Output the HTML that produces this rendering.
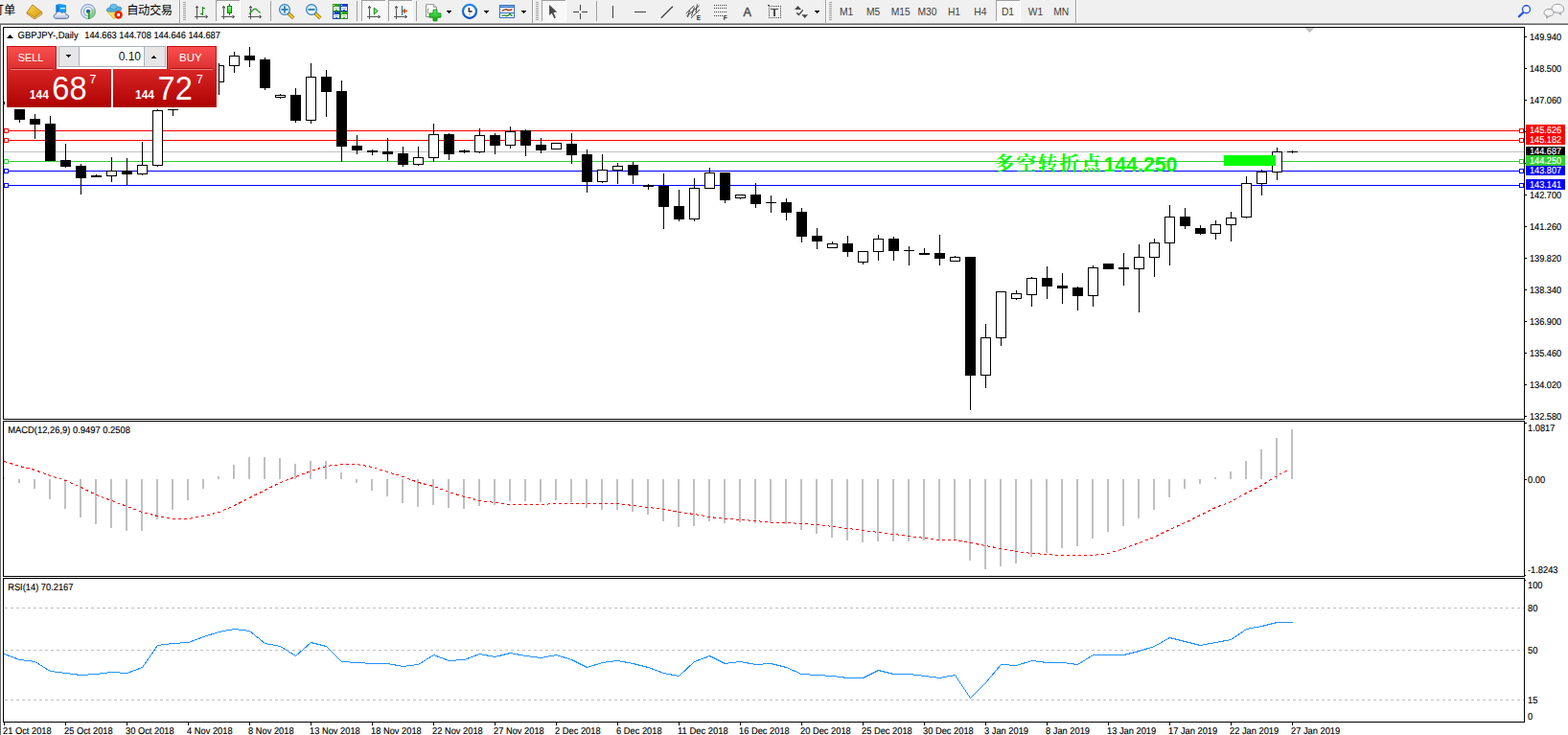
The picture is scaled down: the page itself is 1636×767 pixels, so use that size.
<!DOCTYPE html>
<html><head><meta charset="utf-8"><title>GBPJPY Daily</title>
<style>
html,body{margin:0;padding:0;background:#fff;width:1636px;height:767px;overflow:hidden}
svg{position:absolute;left:0;top:0;display:block}
text{font-family:"Liberation Sans",sans-serif;white-space:pre}
</style></head><body>
<svg width="1636" height="767" viewBox="0 0 1636 767">
<g shape-rendering="crispEdges">
<rect x="0" y="25" width="1" height="742" fill="#696969"/>
<rect x="3" y="28" width="1588" height="1" fill="#000"/><rect x="3" y="28" width="1" height="410" fill="#000"/><rect x="3" y="437" width="1588" height="1" fill="#000"/>
<rect x="3" y="439" width="1588" height="1" fill="#000"/><rect x="3" y="439" width="1" height="163" fill="#000"/><rect x="3" y="601" width="1588" height="1" fill="#000"/>
<rect x="3" y="603" width="1588" height="1" fill="#000"/><rect x="3" y="603" width="1" height="151" fill="#000"/><rect x="3" y="753" width="1588" height="1" fill="#000"/>
<rect x="1590" y="28" width="1" height="410" fill="#000"/><rect x="1590" y="439" width="1" height="163" fill="#000"/><rect x="1590" y="603" width="1" height="151" fill="#000"/>
<rect x="1591" y="600" width="1" height="1" fill="#000"/><rect x="1591" y="605" width="1" height="1" fill="#000"/>
<rect x="1362" y="29" width="9" height="1" fill="#C0C0C0"/>
<rect x="1363" y="30" width="7" height="1" fill="#C0C0C0"/>
<rect x="1364" y="31" width="5" height="1" fill="#C0C0C0"/>
<rect x="1365" y="32" width="3" height="1" fill="#C0C0C0"/>
<rect x="1366" y="33" width="1" height="1" fill="#C0C0C0"/>
<rect x="4" y="136" width="1586" height="1" fill="#FF0000"/>
<rect x="4" y="146" width="1586" height="1" fill="#FF0000"/>
<rect x="4" y="158" width="1586" height="1" fill="#C0C0C0"/>
<rect x="4" y="168" width="1586" height="1" fill="#32CD32"/>
<rect x="4" y="178" width="1586" height="1" fill="#0000FF"/>
<rect x="4" y="193" width="1586" height="1" fill="#0000FF"/>
<rect x="4" y="106" width="1" height="3" fill="#000"/>
<rect x="20" y="114" width="1" height="14" fill="#000"/>
<rect x="15" y="114" width="11" height="11" fill="#000"/>
<rect x="36" y="119" width="1" height="26" fill="#000"/>
<rect x="31" y="124" width="11" height="6" fill="#000"/>
<rect x="52" y="121" width="1" height="47" fill="#000"/>
<rect x="47" y="129" width="11" height="39" fill="#000"/>
<rect x="68" y="150" width="1" height="25" fill="#000"/>
<rect x="63" y="167" width="11" height="7" fill="#000"/>
<rect x="84" y="171" width="1" height="32" fill="#000"/>
<rect x="79" y="173" width="11" height="13" fill="#000"/>
<rect x="100" y="182" width="1" height="3" fill="#000"/>
<rect x="95" y="183" width="11" height="2" fill="#000"/>
<rect x="116" y="164" width="1" height="26" fill="#000"/>
<rect x="111" y="178" width="11" height="6" fill="#000"/>
<rect x="112" y="179" width="9" height="4" fill="#fff"/>
<rect x="132" y="165" width="1" height="28" fill="#000"/>
<rect x="127" y="178" width="11" height="4" fill="#000"/>
<rect x="148" y="148" width="1" height="35" fill="#000"/>
<rect x="143" y="172" width="11" height="10" fill="#000"/>
<rect x="144" y="173" width="9" height="8" fill="#fff"/>
<rect x="164" y="114" width="1" height="60" fill="#000"/>
<rect x="159" y="115" width="11" height="58" fill="#000"/>
<rect x="160" y="116" width="9" height="56" fill="#fff"/>
<rect x="180" y="114" width="1" height="7" fill="#000"/>
<rect x="175" y="114" width="11" height="1" fill="#000"/>
<rect x="244" y="54" width="1" height="22" fill="#000"/>
<rect x="239" y="58" width="11" height="11" fill="#000"/>
<rect x="240" y="59" width="9" height="9" fill="#fff"/>
<rect x="260" y="49" width="1" height="21" fill="#000"/>
<rect x="255" y="58" width="11" height="5" fill="#000"/>
<rect x="276" y="60" width="1" height="34" fill="#000"/>
<rect x="271" y="62" width="11" height="30" fill="#000"/>
<rect x="292" y="98" width="1" height="5" fill="#000"/>
<rect x="287" y="99" width="11" height="3" fill="#000"/>
<rect x="288" y="100" width="9" height="1" fill="#fff"/>
<rect x="308" y="92" width="1" height="36" fill="#000"/>
<rect x="303" y="99" width="11" height="27" fill="#000"/>
<rect x="324" y="66" width="1" height="63" fill="#000"/>
<rect x="319" y="80" width="11" height="46" fill="#000"/>
<rect x="320" y="81" width="9" height="44" fill="#fff"/>
<rect x="340" y="73" width="1" height="49" fill="#000"/>
<rect x="335" y="80" width="11" height="16" fill="#000"/>
<rect x="356" y="84" width="1" height="85" fill="#000"/>
<rect x="351" y="95" width="11" height="58" fill="#000"/>
<rect x="372" y="141" width="1" height="20" fill="#000"/>
<rect x="367" y="152" width="11" height="5" fill="#000"/>
<rect x="388" y="156" width="1" height="6" fill="#000"/>
<rect x="383" y="157" width="11" height="2" fill="#000"/>
<rect x="404" y="144" width="1" height="24" fill="#000"/>
<rect x="399" y="158" width="11" height="3" fill="#000"/>
<rect x="420" y="153" width="1" height="21" fill="#000"/>
<rect x="415" y="160" width="11" height="12" fill="#000"/>
<rect x="436" y="153" width="1" height="20" fill="#000"/>
<rect x="431" y="164" width="11" height="8" fill="#000"/>
<rect x="432" y="165" width="9" height="6" fill="#fff"/>
<rect x="452" y="129" width="1" height="40" fill="#000"/>
<rect x="447" y="140" width="11" height="25" fill="#000"/>
<rect x="448" y="141" width="9" height="23" fill="#fff"/>
<rect x="468" y="139" width="1" height="28" fill="#000"/>
<rect x="463" y="140" width="11" height="21" fill="#000"/>
<rect x="484" y="156" width="1" height="4" fill="#000"/>
<rect x="479" y="157" width="11" height="2" fill="#000"/>
<rect x="500" y="134" width="1" height="26" fill="#000"/>
<rect x="495" y="141" width="11" height="18" fill="#000"/>
<rect x="496" y="142" width="9" height="16" fill="#fff"/>
<rect x="516" y="139" width="1" height="22" fill="#000"/>
<rect x="511" y="141" width="11" height="11" fill="#000"/>
<rect x="532" y="132" width="1" height="23" fill="#000"/>
<rect x="527" y="137" width="11" height="15" fill="#000"/>
<rect x="528" y="138" width="9" height="13" fill="#fff"/>
<rect x="548" y="135" width="1" height="28" fill="#000"/>
<rect x="543" y="136" width="11" height="16" fill="#000"/>
<rect x="564" y="144" width="1" height="16" fill="#000"/>
<rect x="559" y="151" width="11" height="6" fill="#000"/>
<rect x="580" y="149" width="1" height="7" fill="#000"/>
<rect x="575" y="149" width="11" height="7" fill="#000"/>
<rect x="576" y="150" width="9" height="5" fill="#fff"/>
<rect x="596" y="139" width="1" height="32" fill="#000"/>
<rect x="591" y="150" width="11" height="12" fill="#000"/>
<rect x="612" y="156" width="1" height="45" fill="#000"/>
<rect x="607" y="161" width="11" height="29" fill="#000"/>
<rect x="628" y="161" width="1" height="30" fill="#000"/>
<rect x="623" y="177" width="11" height="13" fill="#000"/>
<rect x="624" y="178" width="9" height="11" fill="#fff"/>
<rect x="644" y="170" width="1" height="22" fill="#000"/>
<rect x="639" y="173" width="11" height="5" fill="#000"/>
<rect x="640" y="174" width="9" height="3" fill="#fff"/>
<rect x="660" y="169" width="1" height="23" fill="#000"/>
<rect x="655" y="172" width="11" height="11" fill="#000"/>
<rect x="676" y="192" width="1" height="6" fill="#000"/>
<rect x="671" y="193" width="11" height="2" fill="#000"/>
<rect x="692" y="181" width="1" height="58" fill="#000"/>
<rect x="687" y="194" width="11" height="22" fill="#000"/>
<rect x="708" y="198" width="1" height="33" fill="#000"/>
<rect x="703" y="215" width="11" height="14" fill="#000"/>
<rect x="724" y="186" width="1" height="45" fill="#000"/>
<rect x="719" y="196" width="11" height="33" fill="#000"/>
<rect x="720" y="197" width="9" height="31" fill="#fff"/>
<rect x="740" y="175" width="1" height="22" fill="#000"/>
<rect x="735" y="180" width="11" height="17" fill="#000"/>
<rect x="736" y="181" width="9" height="15" fill="#fff"/>
<rect x="756" y="180" width="1" height="32" fill="#000"/>
<rect x="751" y="180" width="11" height="29" fill="#000"/>
<rect x="772" y="203" width="1" height="5" fill="#000"/>
<rect x="767" y="203" width="11" height="4" fill="#000"/>
<rect x="768" y="204" width="9" height="2" fill="#fff"/>
<rect x="788" y="191" width="1" height="26" fill="#000"/>
<rect x="783" y="203" width="11" height="10" fill="#000"/>
<rect x="804" y="204" width="1" height="18" fill="#000"/>
<rect x="799" y="211" width="11" height="1" fill="#000"/>
<rect x="820" y="207" width="1" height="23" fill="#000"/>
<rect x="815" y="211" width="11" height="11" fill="#000"/>
<rect x="836" y="217" width="1" height="36" fill="#000"/>
<rect x="831" y="221" width="11" height="26" fill="#000"/>
<rect x="852" y="238" width="1" height="22" fill="#000"/>
<rect x="847" y="246" width="11" height="6" fill="#000"/>
<rect x="868" y="252" width="1" height="7" fill="#000"/>
<rect x="863" y="254" width="11" height="5" fill="#000"/>
<rect x="864" y="255" width="9" height="3" fill="#fff"/>
<rect x="884" y="246" width="1" height="22" fill="#000"/>
<rect x="879" y="254" width="11" height="9" fill="#000"/>
<rect x="900" y="262" width="1" height="14" fill="#000"/>
<rect x="895" y="262" width="11" height="12" fill="#000"/>
<rect x="896" y="263" width="9" height="10" fill="#fff"/>
<rect x="916" y="245" width="1" height="27" fill="#000"/>
<rect x="911" y="249" width="11" height="14" fill="#000"/>
<rect x="912" y="250" width="9" height="12" fill="#fff"/>
<rect x="932" y="247" width="1" height="25" fill="#000"/>
<rect x="927" y="249" width="11" height="13" fill="#000"/>
<rect x="948" y="257" width="1" height="20" fill="#000"/>
<rect x="943" y="261" width="11" height="1" fill="#000"/>
<rect x="964" y="259" width="1" height="7" fill="#000"/>
<rect x="959" y="264" width="11" height="2" fill="#000"/>
<rect x="980" y="245" width="1" height="32" fill="#000"/>
<rect x="975" y="264" width="11" height="6" fill="#000"/>
<rect x="996" y="267" width="1" height="6" fill="#000"/>
<rect x="991" y="268" width="11" height="5" fill="#000"/>
<rect x="992" y="269" width="9" height="3" fill="#fff"/>
<rect x="1012" y="268" width="1" height="160" fill="#000"/>
<rect x="1007" y="268" width="11" height="124" fill="#000"/>
<rect x="1028" y="338" width="1" height="67" fill="#000"/>
<rect x="1023" y="352" width="11" height="40" fill="#000"/>
<rect x="1024" y="353" width="9" height="38" fill="#fff"/>
<rect x="1044" y="304" width="1" height="57" fill="#000"/>
<rect x="1039" y="304" width="11" height="49" fill="#000"/>
<rect x="1040" y="305" width="9" height="47" fill="#fff"/>
<rect x="1060" y="303" width="1" height="10" fill="#000"/>
<rect x="1055" y="306" width="11" height="6" fill="#000"/>
<rect x="1056" y="307" width="9" height="4" fill="#fff"/>
<rect x="1076" y="289" width="1" height="31" fill="#000"/>
<rect x="1071" y="290" width="11" height="18" fill="#000"/>
<rect x="1072" y="291" width="9" height="16" fill="#fff"/>
<rect x="1092" y="278" width="1" height="34" fill="#000"/>
<rect x="1087" y="290" width="11" height="9" fill="#000"/>
<rect x="1108" y="285" width="1" height="32" fill="#000"/>
<rect x="1103" y="298" width="11" height="3" fill="#000"/>
<rect x="1124" y="299" width="1" height="25" fill="#000"/>
<rect x="1119" y="300" width="11" height="9" fill="#000"/>
<rect x="1140" y="277" width="1" height="43" fill="#000"/>
<rect x="1135" y="279" width="11" height="30" fill="#000"/>
<rect x="1136" y="280" width="9" height="28" fill="#fff"/>
<rect x="1156" y="275" width="1" height="6" fill="#000"/>
<rect x="1151" y="275" width="11" height="6" fill="#000"/>
<rect x="1172" y="264" width="1" height="34" fill="#000"/>
<rect x="1167" y="279" width="11" height="2" fill="#000"/>
<rect x="1188" y="255" width="1" height="71" fill="#000"/>
<rect x="1183" y="268" width="11" height="13" fill="#000"/>
<rect x="1184" y="269" width="9" height="11" fill="#fff"/>
<rect x="1204" y="249" width="1" height="40" fill="#000"/>
<rect x="1199" y="253" width="11" height="16" fill="#000"/>
<rect x="1200" y="254" width="9" height="14" fill="#fff"/>
<rect x="1220" y="214" width="1" height="63" fill="#000"/>
<rect x="1215" y="226" width="11" height="28" fill="#000"/>
<rect x="1216" y="227" width="9" height="26" fill="#fff"/>
<rect x="1236" y="217" width="1" height="22" fill="#000"/>
<rect x="1231" y="226" width="11" height="10" fill="#000"/>
<rect x="1252" y="235" width="1" height="10" fill="#000"/>
<rect x="1247" y="238" width="11" height="6" fill="#000"/>
<rect x="1268" y="230" width="1" height="20" fill="#000"/>
<rect x="1263" y="234" width="11" height="10" fill="#000"/>
<rect x="1264" y="235" width="9" height="8" fill="#fff"/>
<rect x="1284" y="221" width="1" height="31" fill="#000"/>
<rect x="1279" y="227" width="11" height="8" fill="#000"/>
<rect x="1280" y="228" width="9" height="6" fill="#fff"/>
<rect x="1300" y="184" width="1" height="44" fill="#000"/>
<rect x="1295" y="191" width="11" height="36" fill="#000"/>
<rect x="1296" y="192" width="9" height="34" fill="#fff"/>
<rect x="1316" y="177" width="1" height="27" fill="#000"/>
<rect x="1311" y="179" width="11" height="13" fill="#000"/>
<rect x="1312" y="180" width="9" height="11" fill="#fff"/>
<rect x="1332" y="154" width="1" height="34" fill="#000"/>
<rect x="1327" y="158" width="11" height="22" fill="#000"/>
<rect x="1328" y="159" width="9" height="20" fill="#fff"/>
<rect x="1348" y="157" width="1" height="3" fill="#000"/>
<rect x="1343" y="158" width="11" height="1" fill="#000"/>
<rect x="228" y="66" width="1" height="33" fill="#000"/>
<rect x="228" y="68" width="6" height="1" fill="#000"/>
<rect x="228" y="85" width="6" height="1" fill="#000"/>
<rect x="233" y="68" width="1" height="18" fill="#000"/>
<rect x="1277" y="162" width="54" height="11" fill="#00FF00"/>
<rect x="4" y="134" width="5" height="5" fill="#FF0000"/><rect x="5" y="135" width="3" height="3" fill="#fff"/>
<rect x="1585" y="134" width="5" height="5" fill="#FF0000"/><rect x="1586" y="135" width="3" height="3" fill="#fff"/>
<rect x="4" y="144" width="5" height="5" fill="#FF0000"/><rect x="5" y="145" width="3" height="3" fill="#fff"/>
<rect x="1585" y="144" width="5" height="5" fill="#FF0000"/><rect x="1586" y="145" width="3" height="3" fill="#fff"/>
<rect x="4" y="166" width="5" height="5" fill="#32CD32"/><rect x="5" y="167" width="3" height="3" fill="#fff"/>
<rect x="1585" y="166" width="5" height="5" fill="#32CD32"/><rect x="1586" y="167" width="3" height="3" fill="#fff"/>
<rect x="4" y="176" width="5" height="5" fill="#0000FF"/><rect x="5" y="177" width="3" height="3" fill="#fff"/>
<rect x="1585" y="176" width="5" height="5" fill="#0000FF"/><rect x="1586" y="177" width="3" height="3" fill="#fff"/>
<rect x="4" y="191" width="5" height="5" fill="#0000FF"/><rect x="5" y="192" width="3" height="3" fill="#fff"/>
<rect x="1585" y="191" width="5" height="5" fill="#0000FF"/><rect x="1586" y="192" width="3" height="3" fill="#fff"/>
<rect x="1591" y="38" width="2" height="1" fill="#000"/>
<rect x="1591" y="71" width="2" height="1" fill="#000"/>
<rect x="1591" y="104" width="2" height="1" fill="#000"/>
<rect x="1591" y="137" width="2" height="1" fill="#000"/>
<rect x="1591" y="170" width="2" height="1" fill="#000"/>
<rect x="1591" y="203" width="2" height="1" fill="#000"/>
<rect x="1591" y="236" width="2" height="1" fill="#000"/>
<rect x="1591" y="269" width="2" height="1" fill="#000"/>
<rect x="1591" y="302" width="2" height="1" fill="#000"/>
<rect x="1591" y="335" width="2" height="1" fill="#000"/>
<rect x="1591" y="368" width="2" height="1" fill="#000"/>
<rect x="1591" y="401" width="2" height="1" fill="#000"/>
<rect x="1591" y="434" width="2" height="1" fill="#000"/>
<rect x="1592" y="130" width="41" height="11" fill="#FF0000"/>
<rect x="1592" y="140" width="41" height="11" fill="#FF0000"/>
<rect x="1592" y="153" width="41" height="10" fill="#000000"/>
<rect x="1592" y="172" width="41" height="11" fill="#0000FF"/>
<rect x="1592" y="187" width="41" height="11" fill="#0000FF"/>
<rect x="1592" y="162" width="41" height="11" fill="#32CD32"/>
<rect x="4" y="498" width="1" height="2" fill="#C0C0C0"/>
<rect x="19" y="500" width="2" height="4" fill="#C0C0C0"/>
<rect x="35" y="500" width="2" height="10" fill="#C0C0C0"/>
<rect x="51" y="500" width="2" height="21" fill="#C0C0C0"/>
<rect x="67" y="500" width="2" height="31" fill="#C0C0C0"/>
<rect x="83" y="500" width="2" height="40" fill="#C0C0C0"/>
<rect x="99" y="500" width="2" height="47" fill="#C0C0C0"/>
<rect x="115" y="500" width="2" height="51" fill="#C0C0C0"/>
<rect x="131" y="500" width="2" height="54" fill="#C0C0C0"/>
<rect x="147" y="500" width="2" height="54" fill="#C0C0C0"/>
<rect x="163" y="500" width="2" height="42" fill="#C0C0C0"/>
<rect x="179" y="500" width="2" height="32" fill="#C0C0C0"/>
<rect x="195" y="500" width="2" height="22" fill="#C0C0C0"/>
<rect x="211" y="500" width="2" height="10" fill="#C0C0C0"/>
<rect x="227" y="497" width="2" height="3" fill="#C0C0C0"/>
<rect x="243" y="485" width="2" height="15" fill="#C0C0C0"/>
<rect x="259" y="477" width="2" height="23" fill="#C0C0C0"/>
<rect x="275" y="477" width="2" height="23" fill="#C0C0C0"/>
<rect x="291" y="478" width="2" height="22" fill="#C0C0C0"/>
<rect x="307" y="484" width="2" height="16" fill="#C0C0C0"/>
<rect x="323" y="481" width="2" height="19" fill="#C0C0C0"/>
<rect x="339" y="481" width="2" height="19" fill="#C0C0C0"/>
<rect x="355" y="493" width="2" height="7" fill="#C0C0C0"/>
<rect x="371" y="500" width="2" height="4" fill="#C0C0C0"/>
<rect x="387" y="500" width="2" height="12" fill="#C0C0C0"/>
<rect x="403" y="500" width="2" height="18" fill="#C0C0C0"/>
<rect x="419" y="500" width="2" height="25" fill="#C0C0C0"/>
<rect x="435" y="500" width="2" height="29" fill="#C0C0C0"/>
<rect x="451" y="500" width="2" height="27" fill="#C0C0C0"/>
<rect x="467" y="500" width="2" height="30" fill="#C0C0C0"/>
<rect x="483" y="500" width="2" height="31" fill="#C0C0C0"/>
<rect x="499" y="500" width="2" height="28" fill="#C0C0C0"/>
<rect x="515" y="500" width="2" height="27" fill="#C0C0C0"/>
<rect x="531" y="500" width="2" height="23" fill="#C0C0C0"/>
<rect x="547" y="500" width="2" height="23" fill="#C0C0C0"/>
<rect x="563" y="500" width="2" height="24" fill="#C0C0C0"/>
<rect x="579" y="500" width="2" height="22" fill="#C0C0C0"/>
<rect x="595" y="500" width="2" height="24" fill="#C0C0C0"/>
<rect x="611" y="500" width="2" height="30" fill="#C0C0C0"/>
<rect x="627" y="500" width="2" height="32" fill="#C0C0C0"/>
<rect x="643" y="500" width="2" height="32" fill="#C0C0C0"/>
<rect x="659" y="500" width="2" height="34" fill="#C0C0C0"/>
<rect x="675" y="500" width="2" height="37" fill="#C0C0C0"/>
<rect x="691" y="500" width="2" height="44" fill="#C0C0C0"/>
<rect x="707" y="500" width="2" height="50" fill="#C0C0C0"/>
<rect x="723" y="500" width="2" height="49" fill="#C0C0C0"/>
<rect x="739" y="500" width="2" height="44" fill="#C0C0C0"/>
<rect x="755" y="500" width="2" height="46" fill="#C0C0C0"/>
<rect x="771" y="500" width="2" height="45" fill="#C0C0C0"/>
<rect x="787" y="500" width="2" height="46" fill="#C0C0C0"/>
<rect x="803" y="500" width="2" height="45" fill="#C0C0C0"/>
<rect x="819" y="500" width="2" height="47" fill="#C0C0C0"/>
<rect x="835" y="500" width="2" height="53" fill="#C0C0C0"/>
<rect x="851" y="500" width="2" height="57" fill="#C0C0C0"/>
<rect x="867" y="500" width="2" height="61" fill="#C0C0C0"/>
<rect x="883" y="500" width="2" height="64" fill="#C0C0C0"/>
<rect x="899" y="500" width="2" height="66" fill="#C0C0C0"/>
<rect x="915" y="500" width="2" height="65" fill="#C0C0C0"/>
<rect x="931" y="500" width="2" height="65" fill="#C0C0C0"/>
<rect x="947" y="500" width="2" height="65" fill="#C0C0C0"/>
<rect x="963" y="500" width="2" height="64" fill="#C0C0C0"/>
<rect x="979" y="500" width="2" height="64" fill="#C0C0C0"/>
<rect x="995" y="500" width="2" height="63" fill="#C0C0C0"/>
<rect x="1011" y="500" width="2" height="85" fill="#C0C0C0"/>
<rect x="1027" y="500" width="2" height="94" fill="#C0C0C0"/>
<rect x="1043" y="500" width="2" height="91" fill="#C0C0C0"/>
<rect x="1059" y="500" width="2" height="88" fill="#C0C0C0"/>
<rect x="1075" y="500" width="2" height="81" fill="#C0C0C0"/>
<rect x="1091" y="500" width="2" height="77" fill="#C0C0C0"/>
<rect x="1107" y="500" width="2" height="72" fill="#C0C0C0"/>
<rect x="1123" y="500" width="2" height="70" fill="#C0C0C0"/>
<rect x="1139" y="500" width="2" height="62" fill="#C0C0C0"/>
<rect x="1155" y="500" width="2" height="55" fill="#C0C0C0"/>
<rect x="1171" y="500" width="2" height="49" fill="#C0C0C0"/>
<rect x="1187" y="500" width="2" height="41" fill="#C0C0C0"/>
<rect x="1203" y="500" width="2" height="32" fill="#C0C0C0"/>
<rect x="1219" y="500" width="2" height="19" fill="#C0C0C0"/>
<rect x="1235" y="500" width="2" height="10" fill="#C0C0C0"/>
<rect x="1251" y="500" width="2" height="5" fill="#C0C0C0"/>
<rect x="1267" y="498" width="2" height="2" fill="#C0C0C0"/>
<rect x="1283" y="492" width="2" height="8" fill="#C0C0C0"/>
<rect x="1299" y="481" width="2" height="19" fill="#C0C0C0"/>
<rect x="1315" y="469" width="2" height="31" fill="#C0C0C0"/>
<rect x="1331" y="457" width="2" height="43" fill="#C0C0C0"/>
<rect x="1347" y="448" width="2" height="52" fill="#C0C0C0"/>
<polyline points="4.5,481.5 20.5,486.5 36.5,490.5 52.5,496.5 68.5,501.5 84.5,508.5 100.5,516.5 116.5,522.5 132.5,528.5 148.5,534.5 164.5,538.5 180.5,541.5 196.5,541.5 212.5,538.5 228.5,534.5 244.5,527.5 260.5,519.5 276.5,511.5 292.5,503.5 308.5,497.5 324.5,491.5 340.5,486.5 356.5,484.5 372.5,484.5 388.5,487.5 404.5,492.5 420.5,497.5 436.5,503.5 452.5,507.5 468.5,513.5 484.5,518.5 500.5,522.5 516.5,524.5 532.5,526.5 548.5,526.5 564.5,526.5 580.5,525.5 596.5,525.5 612.5,525.5 628.5,525.5 644.5,525.5 660.5,527.5 676.5,529.5 692.5,531.5 708.5,534.5 724.5,536.5 740.5,539.5 756.5,541.5 772.5,542.5 788.5,543.5 804.5,545.5 820.5,545.5 836.5,546.5 852.5,547.5 868.5,549.5 884.5,551.5 900.5,553.5 916.5,555.5 932.5,557.5 948.5,559.5 964.5,561.5 980.5,563.5 996.5,563.5 1012.5,566.5 1028.5,569.5 1044.5,572.5 1060.5,575.5 1076.5,577.5 1092.5,578.5 1108.5,579.5 1124.5,579.5 1140.5,579.5 1156.5,577.5 1172.5,572.5 1188.5,566.5 1204.5,560.5 1220.5,552.5 1236.5,545.5 1252.5,537.5 1268.5,529.5 1284.5,523.5 1300.5,514.5 1316.5,506.5 1332.5,496.5 1345.5,489.5" fill="none" stroke="#FF0000" stroke-width="1" stroke-dasharray="3 3"/>
<rect x="1591" y="500" width="2" height="1" fill="#000"/>
<rect x="1591" y="441" width="2" height="1" fill="#000"/>
<line x1="5" y1="634.5" x2="1590" y2="634.5" stroke="#C0C0C0" stroke-width="1" stroke-dasharray="3 3"/>
<line x1="5" y1="678.5" x2="1590" y2="678.5" stroke="#C0C0C0" stroke-width="1" stroke-dasharray="3 3"/>
<line x1="5" y1="730.5" x2="1590" y2="730.5" stroke="#C0C0C0" stroke-width="1" stroke-dasharray="3 3"/>
<polyline points="4.5,682.5 20.5,688.5 36.5,690.5 52.5,700.5 68.5,702.5 84.5,704.5 100.5,703.5 116.5,701.5 132.5,702.5 148.5,696.5 164.5,673.5 180.5,671.5 196.5,670.5 212.5,664.5 228.5,659.5 244.5,656.5 260.5,658.5 276.5,671.5 292.5,674.5 308.5,684.5 324.5,670.5 340.5,674.5 356.5,690.5 372.5,691.5 388.5,692.5 404.5,692.5 420.5,695.5 436.5,693.5 452.5,683.5 468.5,689.5 484.5,688.5 500.5,682.5 516.5,685.5 532.5,681.5 548.5,684.5 564.5,686.5 580.5,683.5 596.5,688.5 612.5,696.5 628.5,691.5 644.5,689.5 660.5,692.5 676.5,696.5 692.5,702.5 708.5,705.5 724.5,690.5 740.5,684.5 756.5,692.5 772.5,690.5 788.5,693.5 804.5,692.5 820.5,696.5 836.5,703.5 852.5,704.5 868.5,705.5 884.5,707.5 900.5,707.5 916.5,699.5 932.5,703.5 948.5,703.5 964.5,705.5 980.5,707.5 996.5,704.5 1012.5,728.5 1028.5,712.5 1044.5,693.5 1060.5,694.5 1076.5,689.5 1092.5,691.5 1108.5,691.5 1124.5,693.5 1140.5,683.5 1156.5,683.5 1172.5,683.5 1188.5,679.5 1204.5,674.5 1220.5,665.5 1236.5,669.5 1252.5,673.5 1268.5,670.5 1284.5,667.5 1300.5,656.5 1316.5,653.5 1332.5,649.5 1348.5,649.5" fill="none" stroke="#1E90FF" stroke-width="1"/>
<rect x="4" y="754" width="1" height="3" fill="#000"/>
<rect x="68" y="754" width="1" height="3" fill="#000"/>
<rect x="132" y="754" width="1" height="3" fill="#000"/>
<rect x="196" y="754" width="1" height="3" fill="#000"/>
<rect x="260" y="754" width="1" height="3" fill="#000"/>
<rect x="324" y="754" width="1" height="3" fill="#000"/>
<rect x="388" y="754" width="1" height="3" fill="#000"/>
<rect x="452" y="754" width="1" height="3" fill="#000"/>
<rect x="516" y="754" width="1" height="3" fill="#000"/>
<rect x="580" y="754" width="1" height="3" fill="#000"/>
<rect x="644" y="754" width="1" height="3" fill="#000"/>
<rect x="708" y="754" width="1" height="3" fill="#000"/>
<rect x="772" y="754" width="1" height="3" fill="#000"/>
<rect x="836" y="754" width="1" height="3" fill="#000"/>
<rect x="900" y="754" width="1" height="3" fill="#000"/>
<rect x="964" y="754" width="1" height="3" fill="#000"/>
<rect x="1028" y="754" width="1" height="3" fill="#000"/>
<rect x="1092" y="754" width="1" height="3" fill="#000"/>
<rect x="1156" y="754" width="1" height="3" fill="#000"/>
<rect x="1220" y="754" width="1" height="3" fill="#000"/>
<rect x="1284" y="754" width="1" height="3" fill="#000"/>
<rect x="1348" y="754" width="1" height="3" fill="#000"/>
<path d="M7 40 L14 40 L10.5 36 Z" fill="#000" shape-rendering="auto"/>
</g>
<g>
<text x="1037.6 1060.2 1082.8 1105.4 1128" y="178.3" font-size="20.8" fill="#00FF00" font-weight="bold" style="font-family:'Liberation Serif','Noto Serif CJK SC',serif">多空转折点</text>
<text x="1151.4" y="178.8" font-size="21.33" fill="#00FF00" font-weight="bold">144.250</text>
<rect x="1036" y="168" width="196" height="1" fill="#32CD32" shape-rendering="crispEdges"/>
</g>
<g>
<text x="1596.0" y="42" font-size="10.0" fill="#000" textLength="33.07" lengthAdjust="spacingAndGlyphs" stroke="#000" stroke-width="0.15" text-rendering="geometricPrecision">149.940</text>
<text x="1596.0" y="75" font-size="10.0" fill="#000" textLength="33.07" lengthAdjust="spacingAndGlyphs" stroke="#000" stroke-width="0.15" text-rendering="geometricPrecision">148.500</text>
<text x="1596.0" y="108" font-size="10.0" fill="#000" textLength="33.07" lengthAdjust="spacingAndGlyphs" stroke="#000" stroke-width="0.15" text-rendering="geometricPrecision">147.060</text>
<text x="1596.0" y="207" font-size="10.0" fill="#000" textLength="33.07" lengthAdjust="spacingAndGlyphs" stroke="#000" stroke-width="0.15" text-rendering="geometricPrecision">142.700</text>
<text x="1596.0" y="240" font-size="10.0" fill="#000" textLength="33.07" lengthAdjust="spacingAndGlyphs" stroke="#000" stroke-width="0.15" text-rendering="geometricPrecision">141.260</text>
<text x="1596.0" y="273" font-size="10.0" fill="#000" textLength="33.07" lengthAdjust="spacingAndGlyphs" stroke="#000" stroke-width="0.15" text-rendering="geometricPrecision">139.820</text>
<text x="1596.0" y="306" font-size="10.0" fill="#000" textLength="33.07" lengthAdjust="spacingAndGlyphs" stroke="#000" stroke-width="0.15" text-rendering="geometricPrecision">138.340</text>
<text x="1596.0" y="339" font-size="10.0" fill="#000" textLength="33.07" lengthAdjust="spacingAndGlyphs" stroke="#000" stroke-width="0.15" text-rendering="geometricPrecision">136.900</text>
<text x="1596.0" y="372" font-size="10.0" fill="#000" textLength="33.07" lengthAdjust="spacingAndGlyphs" stroke="#000" stroke-width="0.15" text-rendering="geometricPrecision">135.460</text>
<text x="1596.0" y="405" font-size="10.0" fill="#000" textLength="33.07" lengthAdjust="spacingAndGlyphs" stroke="#000" stroke-width="0.15" text-rendering="geometricPrecision">134.020</text>
<text x="1596.0" y="438" font-size="10.0" fill="#000" textLength="33.07" lengthAdjust="spacingAndGlyphs" stroke="#000" stroke-width="0.15" text-rendering="geometricPrecision">132.580</text>
<text x="1596.0" y="139" font-size="10.0" fill="#fff" textLength="33.07" lengthAdjust="spacingAndGlyphs" stroke="#fff" stroke-width="0.15" text-rendering="geometricPrecision">145.626</text>
<text x="1596.0" y="149" font-size="10.0" fill="#fff" textLength="33.07" lengthAdjust="spacingAndGlyphs" stroke="#fff" stroke-width="0.15" text-rendering="geometricPrecision">145.182</text>
<text x="1596.0" y="161" font-size="10.0" fill="#fff" textLength="33.07" lengthAdjust="spacingAndGlyphs" stroke="#fff" stroke-width="0.15" text-rendering="geometricPrecision">144.687</text>
<text x="1596.0" y="181" font-size="10.0" fill="#fff" textLength="33.07" lengthAdjust="spacingAndGlyphs" stroke="#fff" stroke-width="0.15" text-rendering="geometricPrecision">143.807</text>
<text x="1596.0" y="196" font-size="10.0" fill="#fff" textLength="33.07" lengthAdjust="spacingAndGlyphs" stroke="#fff" stroke-width="0.15" text-rendering="geometricPrecision">143.141</text>
<text x="1596.0" y="171" font-size="10.0" fill="#fff" textLength="33.07" lengthAdjust="spacingAndGlyphs" stroke="#fff" stroke-width="0.15" text-rendering="geometricPrecision">144.250</text>
<text x="1594.0" y="450" font-size="10.0" fill="#000" textLength="28.44" lengthAdjust="spacingAndGlyphs" stroke="#000" stroke-width="0.15" text-rendering="geometricPrecision">1.0817</text>
<text x="1594.0" y="504" font-size="10.0" fill="#000" textLength="18.1" lengthAdjust="spacingAndGlyphs" stroke="#000" stroke-width="0.15" text-rendering="geometricPrecision">0.00</text>
<text x="1594.0" y="598" font-size="10.0" fill="#000" textLength="31.54" lengthAdjust="spacingAndGlyphs" stroke="#000" stroke-width="0.15" text-rendering="geometricPrecision">-1.8243</text>
<text x="1594.0" y="614" font-size="10.0" fill="#000" textLength="15.52" lengthAdjust="spacingAndGlyphs" stroke="#000" stroke-width="0.15" text-rendering="geometricPrecision">100</text>
<text x="1594.0" y="638" font-size="10.0" fill="#000" textLength="10.34" lengthAdjust="spacingAndGlyphs" stroke="#000" stroke-width="0.15" text-rendering="geometricPrecision">80</text>
<text x="1594.0" y="682" font-size="10.0" fill="#000" textLength="10.34" lengthAdjust="spacingAndGlyphs" stroke="#000" stroke-width="0.15" text-rendering="geometricPrecision">50</text>
<text x="1594.0" y="734" font-size="10.0" fill="#000" textLength="10.34" lengthAdjust="spacingAndGlyphs" stroke="#000" stroke-width="0.15" text-rendering="geometricPrecision">15</text>
<text x="1594.0" y="751" font-size="10.0" fill="#000" textLength="5.17" lengthAdjust="spacingAndGlyphs" stroke="#000" stroke-width="0.15" text-rendering="geometricPrecision">0</text>
<text x="3.0" y="766" font-size="10.0" fill="#000" textLength="50.67" lengthAdjust="spacingAndGlyphs" stroke="#000" stroke-width="0.15" text-rendering="geometricPrecision">21 Oct 2018</text>
<text x="67.0" y="766" font-size="10.0" fill="#000" textLength="50.67" lengthAdjust="spacingAndGlyphs" stroke="#000" stroke-width="0.15" text-rendering="geometricPrecision">25 Oct 2018</text>
<text x="131.0" y="766" font-size="10.0" fill="#000" textLength="50.67" lengthAdjust="spacingAndGlyphs" stroke="#000" stroke-width="0.15" text-rendering="geometricPrecision">30 Oct 2018</text>
<text x="195.0" y="766" font-size="10.0" fill="#000" textLength="47.57" lengthAdjust="spacingAndGlyphs" stroke="#000" stroke-width="0.15" text-rendering="geometricPrecision">4 Nov 2018</text>
<text x="259.0" y="766" font-size="10.0" fill="#000" textLength="47.57" lengthAdjust="spacingAndGlyphs" stroke="#000" stroke-width="0.15" text-rendering="geometricPrecision">8 Nov 2018</text>
<text x="323.0" y="766" font-size="10.0" fill="#000" textLength="52.74" lengthAdjust="spacingAndGlyphs" stroke="#000" stroke-width="0.15" text-rendering="geometricPrecision">13 Nov 2018</text>
<text x="387.0" y="766" font-size="10.0" fill="#000" textLength="52.74" lengthAdjust="spacingAndGlyphs" stroke="#000" stroke-width="0.15" text-rendering="geometricPrecision">18 Nov 2018</text>
<text x="451.0" y="766" font-size="10.0" fill="#000" textLength="52.74" lengthAdjust="spacingAndGlyphs" stroke="#000" stroke-width="0.15" text-rendering="geometricPrecision">22 Nov 2018</text>
<text x="515.0" y="766" font-size="10.0" fill="#000" textLength="52.74" lengthAdjust="spacingAndGlyphs" stroke="#000" stroke-width="0.15" text-rendering="geometricPrecision">27 Nov 2018</text>
<text x="579.0" y="766" font-size="10.0" fill="#000" textLength="47.57" lengthAdjust="spacingAndGlyphs" stroke="#000" stroke-width="0.15" text-rendering="geometricPrecision">2 Dec 2018</text>
<text x="643.0" y="766" font-size="10.0" fill="#000" textLength="47.57" lengthAdjust="spacingAndGlyphs" stroke="#000" stroke-width="0.15" text-rendering="geometricPrecision">6 Dec 2018</text>
<text x="707.0" y="766" font-size="10.0" fill="#000" textLength="52.74" lengthAdjust="spacingAndGlyphs" stroke="#000" stroke-width="0.15" text-rendering="geometricPrecision">11 Dec 2018</text>
<text x="771.0" y="766" font-size="10.0" fill="#000" textLength="52.74" lengthAdjust="spacingAndGlyphs" stroke="#000" stroke-width="0.15" text-rendering="geometricPrecision">16 Dec 2018</text>
<text x="835.0" y="766" font-size="10.0" fill="#000" textLength="52.74" lengthAdjust="spacingAndGlyphs" stroke="#000" stroke-width="0.15" text-rendering="geometricPrecision">20 Dec 2018</text>
<text x="899.0" y="766" font-size="10.0" fill="#000" textLength="52.74" lengthAdjust="spacingAndGlyphs" stroke="#000" stroke-width="0.15" text-rendering="geometricPrecision">25 Dec 2018</text>
<text x="963.0" y="766" font-size="10.0" fill="#000" textLength="52.74" lengthAdjust="spacingAndGlyphs" stroke="#000" stroke-width="0.15" text-rendering="geometricPrecision">30 Dec 2018</text>
<text x="1027.0" y="766" font-size="10.0" fill="#000" textLength="46.02" lengthAdjust="spacingAndGlyphs" stroke="#000" stroke-width="0.15" text-rendering="geometricPrecision">3 Jan 2019</text>
<text x="1091.0" y="766" font-size="10.0" fill="#000" textLength="46.02" lengthAdjust="spacingAndGlyphs" stroke="#000" stroke-width="0.15" text-rendering="geometricPrecision">8 Jan 2019</text>
<text x="1155.0" y="766" font-size="10.0" fill="#000" textLength="51.2" lengthAdjust="spacingAndGlyphs" stroke="#000" stroke-width="0.15" text-rendering="geometricPrecision">13 Jan 2019</text>
<text x="1219.0" y="766" font-size="10.0" fill="#000" textLength="51.2" lengthAdjust="spacingAndGlyphs" stroke="#000" stroke-width="0.15" text-rendering="geometricPrecision">17 Jan 2019</text>
<text x="1283.0" y="766" font-size="10.0" fill="#000" textLength="51.2" lengthAdjust="spacingAndGlyphs" stroke="#000" stroke-width="0.15" text-rendering="geometricPrecision">22 Jan 2019</text>
<text x="1347.0" y="766" font-size="10.0" fill="#000" textLength="51.2" lengthAdjust="spacingAndGlyphs" stroke="#000" stroke-width="0.15" text-rendering="geometricPrecision">27 Jan 2019</text>
<text x="18.6" y="40" font-size="10.0" fill="#000" textLength="63.05" lengthAdjust="spacingAndGlyphs" stroke="#000" stroke-width="0.15" text-rendering="geometricPrecision">GBPJPY-,Daily</text>
<text x="88.3" y="40" font-size="10.0" fill="#000" textLength="141.6" lengthAdjust="spacingAndGlyphs" stroke="#000" stroke-width="0.15" text-rendering="geometricPrecision">144.663 144.708 144.646 144.687</text>
<text x="8.2" y="452" font-size="10.0" fill="#000" textLength="127.75" lengthAdjust="spacingAndGlyphs" stroke="#000" stroke-width="0.15" text-rendering="geometricPrecision">MACD(12,26,9) 0.9497 0.2508</text>
<text x="8.2" y="616" font-size="10.0" fill="#000" textLength="68.24" lengthAdjust="spacingAndGlyphs" stroke="#000" stroke-width="0.15" text-rendering="geometricPrecision">RSI(14) 70.2167</text>
</g>
<g shape-rendering="crispEdges">
<defs><linearGradient id="gb" x1="0" y1="0" x2="0" y2="1"><stop offset="0" stop-color="#D92626"/><stop offset="1" stop-color="#AE0202"/></linearGradient><linearGradient id="gt" x1="0" y1="0" x2="0" y2="1"><stop offset="0" stop-color="#FA5050"/><stop offset="1" stop-color="#DE3030"/></linearGradient></defs>
<rect x="7" y="48" width="52" height="24" fill="url(#gt)"/>
<rect x="174" y="48" width="52" height="24" fill="url(#gt)"/>
<rect x="7" y="72" width="109" height="40" fill="url(#gb)"/>
<rect x="118" y="72" width="108" height="40" fill="url(#gb)"/>
<path d="M7.5 112 V48.5 H58.5 V72" fill="none" stroke="#C81010" stroke-width="1"/>
<path d="M174.5 72 V48.5 H225.5 V112" fill="none" stroke="#C81010" stroke-width="1"/>
<rect x="11" y="71" width="44" height="1" fill="#B01010"/>
<rect x="11" y="72" width="44" height="1" fill="#F08080"/>
<rect x="178" y="71" width="44" height="1" fill="#B01010"/>
<rect x="178" y="72" width="44" height="1" fill="#F08080"/>
<rect x="61" y="48" width="112" height="22" fill="#ABB2BA"/>
<rect x="62" y="49" width="110" height="20" fill="#fff"/>
<rect x="62" y="49" width="20" height="20" fill="#E6E6E6"/>
<rect x="82" y="49" width="1" height="20" fill="#ABB2BA"/>
<rect x="151" y="49" width="21" height="20" fill="#E6E6E6"/>
<rect x="150" y="49" width="1" height="20" fill="#ABB2BA"/>
<rect x="69" y="57" width="5" height="1" fill="#000"/>
<rect x="70" y="58" width="3" height="1" fill="#000"/>
<rect x="71" y="59" width="1" height="1" fill="#000"/>
<rect x="160" y="58" width="1" height="1" fill="#000"/>
<rect x="159" y="59" width="3" height="1" fill="#000"/>
<rect x="158" y="60" width="5" height="1" fill="#000"/>
</g>
<g>
<text x="18.8" y="63.7" font-size="11.6" fill="#fff" textLength="26.6" lengthAdjust="spacingAndGlyphs">SELL</text>
<text x="187" y="64" font-size="11.5" fill="#fff">BUY</text>
<text x="147" y="63" font-size="12" fill="#111" text-anchor="end">0.10</text>
<text x="30.8" y="102.8" font-size="12" fill="#fff" font-weight="bold">144</text>
<text x="54.3" y="103.9" font-size="35" fill="#fff" textLength="36.2" lengthAdjust="spacingAndGlyphs">68</text>
<text x="93.5" y="87" font-size="12.3" fill="#fff">7</text>
<text x="141" y="102.8" font-size="12" fill="#fff" font-weight="bold">144</text>
<text x="164.6" y="103.9" font-size="35" fill="#fff" textLength="36.2" lengthAdjust="spacingAndGlyphs">72</text>
<text x="205" y="87" font-size="12.3" fill="#fff">7</text>
</g>
<g>
<defs><linearGradient id="gold" x1="0" y1="0" x2="1" y2="1"><stop offset="0" stop-color="#F6D84A"/><stop offset="1" stop-color="#D89A10"/></linearGradient><linearGradient id="cloud" x1="0" y1="0" x2="0" y2="1"><stop offset="0" stop-color="#FFFFFF"/><stop offset="1" stop-color="#B8C4DC"/></linearGradient><linearGradient id="gcan" x1="0" y1="0" x2="0" y2="1"><stop offset="0" stop-color="#9CFF9C"/><stop offset="1" stop-color="#1FD01F"/></linearGradient><linearGradient id="lens" x1="0" y1="0" x2="0" y2="1"><stop offset="0" stop-color="#C4E8F8"/><stop offset="1" stop-color="#EEF9FD"/></linearGradient><linearGradient id="clk" x1="0" y1="0" x2="0" y2="1"><stop offset="0" stop-color="#2A8CF0"/><stop offset="1" stop-color="#0A4CB0"/></linearGradient><linearGradient id="gplus" x1="0" y1="0" x2="0" y2="1"><stop offset="0" stop-color="#60F060"/><stop offset="1" stop-color="#10A010"/></linearGradient><linearGradient id="sig" x1="0" y1="0" x2="1" y2="1"><stop offset="0" stop-color="#D0E8D0" stop-opacity=".7"/><stop offset="1" stop-color="#30A830"/></linearGradient><pattern id="chk" width="2" height="2" patternUnits="userSpaceOnUse"><rect width="2" height="2" fill="#F0F0F0"/><rect width="1" height="1" fill="#fff"/><rect x="1" y="1" width="1" height="1" fill="#fff"/></pattern><linearGradient id="bub" x1="0" y1="0" x2="0" y2="1"><stop offset="0" stop-color="#FFFFFF"/><stop offset=".55" stop-color="#F4F4F8"/><stop offset="1" stop-color="#D4D4E0"/></linearGradient></defs>
<g shape-rendering="crispEdges">
<rect x="0" y="0" width="1636" height="23" fill="#F0F0F0"/>
<rect x="0" y="23" width="1636" height="1" fill="#F6F6F6"/>
<rect x="0" y="24" width="1636" height="1" fill="#A0A0A0"/>
<rect x="0" y="25" width="1636" height="1" fill="#696969"/>
<rect x="187" y="0" width="1" height="24" fill="#A0A0A0"/>
<rect x="188" y="0" width="1" height="24" fill="#FFFFFF"/>
<rect x="555" y="0" width="1" height="24" fill="#A0A0A0"/>
<rect x="556" y="0" width="1" height="24" fill="#FFFFFF"/>
<rect x="861" y="0" width="1" height="24" fill="#A0A0A0"/>
<rect x="862" y="0" width="1" height="24" fill="#FFFFFF"/>
<rect x="1122" y="0" width="1" height="24" fill="#A0A0A0"/>
<rect x="1123" y="0" width="1" height="24" fill="#FFFFFF"/>
<rect x="191" y="2" width="3" height="1" fill="#A0A0A0"/>
<rect x="191" y="4" width="3" height="1" fill="#A0A0A0"/>
<rect x="191" y="6" width="3" height="1" fill="#A0A0A0"/>
<rect x="191" y="8" width="3" height="1" fill="#A0A0A0"/>
<rect x="191" y="10" width="3" height="1" fill="#A0A0A0"/>
<rect x="191" y="12" width="3" height="1" fill="#A0A0A0"/>
<rect x="191" y="14" width="3" height="1" fill="#A0A0A0"/>
<rect x="191" y="16" width="3" height="1" fill="#A0A0A0"/>
<rect x="191" y="18" width="3" height="1" fill="#A0A0A0"/>
<rect x="191" y="20" width="3" height="1" fill="#A0A0A0"/>
<rect x="559" y="2" width="3" height="1" fill="#A0A0A0"/>
<rect x="559" y="4" width="3" height="1" fill="#A0A0A0"/>
<rect x="559" y="6" width="3" height="1" fill="#A0A0A0"/>
<rect x="559" y="8" width="3" height="1" fill="#A0A0A0"/>
<rect x="559" y="10" width="3" height="1" fill="#A0A0A0"/>
<rect x="559" y="12" width="3" height="1" fill="#A0A0A0"/>
<rect x="559" y="14" width="3" height="1" fill="#A0A0A0"/>
<rect x="559" y="16" width="3" height="1" fill="#A0A0A0"/>
<rect x="559" y="18" width="3" height="1" fill="#A0A0A0"/>
<rect x="559" y="20" width="3" height="1" fill="#A0A0A0"/>
<rect x="865" y="2" width="3" height="1" fill="#A0A0A0"/>
<rect x="865" y="4" width="3" height="1" fill="#A0A0A0"/>
<rect x="865" y="6" width="3" height="1" fill="#A0A0A0"/>
<rect x="865" y="8" width="3" height="1" fill="#A0A0A0"/>
<rect x="865" y="10" width="3" height="1" fill="#A0A0A0"/>
<rect x="865" y="12" width="3" height="1" fill="#A0A0A0"/>
<rect x="865" y="14" width="3" height="1" fill="#A0A0A0"/>
<rect x="865" y="16" width="3" height="1" fill="#A0A0A0"/>
<rect x="865" y="18" width="3" height="1" fill="#A0A0A0"/>
<rect x="865" y="20" width="3" height="1" fill="#A0A0A0"/>
<rect x="282" y="1" width="1" height="21" fill="#A0A0A0"/>
<rect x="372" y="1" width="1" height="21" fill="#A0A0A0"/>
<rect x="434" y="1" width="1" height="21" fill="#A0A0A0"/>
<rect x="622" y="1" width="1" height="21" fill="#A0A0A0"/>
<rect x="225" y="0" width="25" height="1" fill="#A0A0A0"/><rect x="225" y="0" width="1" height="22" fill="#A0A0A0"/><rect x="226" y="1" width="24" height="21" fill="url(#chk)"/><rect x="225" y="22" width="26" height="1" fill="#fff"/><rect x="250" y="0" width="1" height="23" fill="#fff"/>
<rect x="377" y="0" width="25" height="1" fill="#A0A0A0"/><rect x="377" y="0" width="1" height="22" fill="#A0A0A0"/><rect x="378" y="1" width="24" height="21" fill="url(#chk)"/><rect x="377" y="22" width="26" height="1" fill="#fff"/><rect x="402" y="0" width="1" height="23" fill="#fff"/>
<rect x="405" y="0" width="25" height="1" fill="#A0A0A0"/><rect x="405" y="0" width="1" height="22" fill="#A0A0A0"/><rect x="406" y="1" width="24" height="21" fill="url(#chk)"/><rect x="405" y="22" width="26" height="1" fill="#fff"/><rect x="430" y="0" width="1" height="23" fill="#fff"/>
<rect x="565" y="0" width="25" height="1" fill="#A0A0A0"/><rect x="565" y="0" width="1" height="22" fill="#A0A0A0"/><rect x="566" y="1" width="24" height="21" fill="url(#chk)"/><rect x="565" y="22" width="26" height="1" fill="#fff"/><rect x="590" y="0" width="1" height="23" fill="#fff"/>
<rect x="1039" y="0" width="25" height="1" fill="#A0A0A0"/><rect x="1039" y="0" width="1" height="22" fill="#A0A0A0"/><rect x="1040" y="1" width="24" height="21" fill="url(#chk)"/><rect x="1039" y="22" width="26" height="1" fill="#fff"/><rect x="1064" y="0" width="1" height="23" fill="#fff"/>
<rect x="205" y="6" width="1" height="14" fill="#555"/><rect x="203" y="17" width="14" height="1" fill="#555"/><rect x="204" y="7" width="3" height="1" fill="#555"/><rect x="204" y="8" width="3" height="1" fill="#9A9A9A"/><rect x="215" y="16" width="1" height="3" fill="#555"/><rect x="214" y="16" width="1" height="3" fill="#9A9A9A"/>
<rect x="233" y="6" width="1" height="14" fill="#555"/><rect x="231" y="17" width="14" height="1" fill="#555"/><rect x="232" y="7" width="3" height="1" fill="#555"/><rect x="232" y="8" width="3" height="1" fill="#9A9A9A"/><rect x="243" y="16" width="1" height="3" fill="#555"/><rect x="242" y="16" width="1" height="3" fill="#9A9A9A"/>
<rect x="261" y="6" width="1" height="14" fill="#555"/><rect x="259" y="17" width="14" height="1" fill="#555"/><rect x="260" y="7" width="3" height="1" fill="#555"/><rect x="260" y="8" width="3" height="1" fill="#9A9A9A"/><rect x="271" y="16" width="1" height="3" fill="#555"/><rect x="270" y="16" width="1" height="3" fill="#9A9A9A"/>
<rect x="385" y="6" width="1" height="14" fill="#555"/><rect x="383" y="17" width="14" height="1" fill="#555"/><rect x="384" y="7" width="3" height="1" fill="#555"/><rect x="384" y="8" width="3" height="1" fill="#9A9A9A"/><rect x="395" y="16" width="1" height="3" fill="#555"/><rect x="394" y="16" width="1" height="3" fill="#9A9A9A"/>
<rect x="413" y="6" width="1" height="14" fill="#555"/><rect x="411" y="17" width="14" height="1" fill="#555"/><rect x="412" y="7" width="3" height="1" fill="#555"/><rect x="412" y="8" width="3" height="1" fill="#9A9A9A"/><rect x="423" y="16" width="1" height="3" fill="#555"/><rect x="422" y="16" width="1" height="3" fill="#9A9A9A"/>
<rect x="211" y="7" width="1" height="9" fill="#0A8A0A"/><rect x="211" y="8" width="3" height="1" fill="#0A8A0A"/><rect x="209" y="14" width="3" height="1" fill="#0A8A0A"/>
<rect x="239" y="4" width="1" height="12" fill="#0A8A0A"/><rect x="237" y="6" width="5" height="8" fill="#0A8A0A"/><rect x="238" y="7" width="3" height="6" fill="url(#gcan)"/>
<rect x="419" y="6" width="1" height="10" fill="#1070B0"/>
<rect x="466" y="11" width="5" height="1" fill="#000"/>
<rect x="467" y="12" width="3" height="1" fill="#000"/>
<rect x="468" y="13" width="1" height="1" fill="#000"/>
<rect x="505" y="11" width="5" height="1" fill="#000"/>
<rect x="506" y="12" width="3" height="1" fill="#000"/>
<rect x="507" y="13" width="1" height="1" fill="#000"/>
<rect x="544" y="11" width="5" height="1" fill="#000"/>
<rect x="545" y="12" width="3" height="1" fill="#000"/>
<rect x="546" y="13" width="1" height="1" fill="#000"/>
<rect x="850" y="11" width="5" height="1" fill="#000"/>
<rect x="851" y="12" width="3" height="1" fill="#000"/>
<rect x="852" y="13" width="1" height="1" fill="#000"/>
<rect x="598" y="12" width="6" height="1" fill="#404040"/><rect x="607" y="12" width="6" height="1" fill="#404040"/><rect x="605" y="5" width="1" height="6" fill="#404040"/><rect x="605" y="14" width="1" height="6" fill="#404040"/>
<rect x="639" y="6" width="1" height="13" fill="#404040"/>
<rect x="662" y="12" width="12" height="1" fill="#404040"/>
<rect x="745" y="5" width="1" height="1" fill="#404040"/>
<rect x="747" y="5" width="1" height="1" fill="#404040"/>
<rect x="749" y="5" width="1" height="1" fill="#404040"/>
<rect x="751" y="5" width="1" height="1" fill="#404040"/>
<rect x="753" y="5" width="1" height="1" fill="#404040"/>
<rect x="755" y="5" width="1" height="1" fill="#404040"/>
<rect x="757" y="5" width="1" height="1" fill="#404040"/>
<rect x="745" y="8" width="1" height="1" fill="#404040"/>
<rect x="747" y="8" width="1" height="1" fill="#404040"/>
<rect x="749" y="8" width="1" height="1" fill="#404040"/>
<rect x="751" y="8" width="1" height="1" fill="#404040"/>
<rect x="753" y="8" width="1" height="1" fill="#404040"/>
<rect x="755" y="8" width="1" height="1" fill="#404040"/>
<rect x="757" y="8" width="1" height="1" fill="#404040"/>
<rect x="745" y="12" width="1" height="1" fill="#404040"/>
<rect x="747" y="12" width="1" height="1" fill="#404040"/>
<rect x="749" y="12" width="1" height="1" fill="#404040"/>
<rect x="751" y="12" width="1" height="1" fill="#404040"/>
<rect x="753" y="12" width="1" height="1" fill="#404040"/>
<rect x="755" y="12" width="1" height="1" fill="#404040"/>
<rect x="757" y="12" width="1" height="1" fill="#404040"/>
<rect x="745" y="16" width="1" height="1" fill="#404040"/>
<rect x="747" y="16" width="1" height="1" fill="#404040"/>
<rect x="749" y="16" width="1" height="1" fill="#404040"/>
<rect x="751" y="16" width="1" height="1" fill="#404040"/>
<rect x="753" y="16" width="1" height="1" fill="#404040"/>
<rect x="802" y="6" width="1" height="1" fill="#404040"/>
<rect x="802" y="18" width="1" height="1" fill="#404040"/>
<rect x="804" y="6" width="1" height="1" fill="#404040"/>
<rect x="804" y="18" width="1" height="1" fill="#404040"/>
<rect x="806" y="6" width="1" height="1" fill="#404040"/>
<rect x="806" y="18" width="1" height="1" fill="#404040"/>
<rect x="808" y="6" width="1" height="1" fill="#404040"/>
<rect x="808" y="18" width="1" height="1" fill="#404040"/>
<rect x="810" y="6" width="1" height="1" fill="#404040"/>
<rect x="810" y="18" width="1" height="1" fill="#404040"/>
<rect x="812" y="6" width="1" height="1" fill="#404040"/>
<rect x="812" y="18" width="1" height="1" fill="#404040"/>
<rect x="814" y="6" width="1" height="1" fill="#404040"/>
<rect x="814" y="18" width="1" height="1" fill="#404040"/>
<rect x="802" y="6" width="1" height="1" fill="#404040"/>
<rect x="814" y="6" width="1" height="1" fill="#404040"/>
<rect x="802" y="8" width="1" height="1" fill="#404040"/>
<rect x="814" y="8" width="1" height="1" fill="#404040"/>
<rect x="802" y="10" width="1" height="1" fill="#404040"/>
<rect x="814" y="10" width="1" height="1" fill="#404040"/>
<rect x="802" y="12" width="1" height="1" fill="#404040"/>
<rect x="814" y="12" width="1" height="1" fill="#404040"/>
<rect x="802" y="14" width="1" height="1" fill="#404040"/>
<rect x="814" y="14" width="1" height="1" fill="#404040"/>
<rect x="802" y="16" width="1" height="1" fill="#404040"/>
<rect x="814" y="16" width="1" height="1" fill="#404040"/>
<rect x="802" y="18" width="1" height="1" fill="#404040"/>
<rect x="814" y="18" width="1" height="1" fill="#404040"/>
<rect x="801" y="5" width="2" height="1" fill="#404040"/>
<rect x="804" y="9" width="8" height="1" fill="#484848"/><rect x="807" y="9" width="2" height="8" fill="#484848"/>
<rect x="347" y="4" width="8" height="8" fill="#2E9E10"/><rect x="355" y="4" width="8" height="8" fill="#1848C8"/><rect x="347" y="12" width="8" height="8" fill="#1848C8"/><rect x="355" y="12" width="8" height="8" fill="#2E9E10"/>
<rect x="348" y="7" width="6" height="4" fill="#fff"/><rect x="349" y="8" width="4" height="1" fill="#9BD88B"/><rect x="350" y="10" width="2" height="1" fill="#2E9E10"/>
<rect x="348" y="5" width="1" height="1" fill="#fff"/>
<rect x="356" y="7" width="6" height="4" fill="#fff"/><rect x="357" y="8" width="4" height="1" fill="#8FA8E8"/><rect x="358" y="10" width="2" height="1" fill="#1848C8"/>
<rect x="356" y="5" width="1" height="1" fill="#fff"/>
<rect x="348" y="15" width="6" height="4" fill="#fff"/><rect x="349" y="16" width="4" height="1" fill="#8FA8E8"/><rect x="350" y="18" width="2" height="1" fill="#1848C8"/>
<rect x="348" y="13" width="1" height="1" fill="#fff"/>
<rect x="356" y="15" width="6" height="4" fill="#fff"/><rect x="357" y="16" width="4" height="1" fill="#9BD88B"/><rect x="358" y="18" width="2" height="1" fill="#2E9E10"/>
<rect x="356" y="13" width="1" height="1" fill="#fff"/>
<rect x="521" y="5" width="16" height="14" fill="#3070C0"/><rect x="522" y="8" width="14" height="5" fill="#fff"/><rect x="522" y="14" width="14" height="4" fill="#fff"/><rect x="522" y="6" width="14" height="1" fill="#7FB0F0"/>
</g>
<text x="-8.2 3.9" y="14.9" font-size="12.2" fill="#000" style="font-family:'Liberation Sans','Noto Sans CJK SC',sans-serif">订单</text>
<text x="132.2 144.05 155.9 167.75" y="15.1" font-size="12.3" fill="#000" style="font-family:'Liberation Sans','Noto Sans CJK SC',sans-serif">自动交易</text>
<path d="M33.9 5 L43.7 12.6 L43.9 14.8 L36 19.9 L28.1 14.3 L28.3 12.6 Z" fill="#C88A18" stroke="#A87014" stroke-width=".8" stroke-linejoin="round"/>
<path d="M33.9 5.4 L43.2 12.6 L35.8 17.4 L28.8 12.6 Z" fill="url(#gold)"/>
<path d="M28.6 13.4 L35.9 18.5 L35.9 19.4 L28.6 14.2 Z" fill="#F2D060"/>
<path d="M36.3 18.4 L43.4 13.6 L43.4 14.5 L36.3 19.3 Z" fill="#EFE2B0"/>
<path d="M58.5 5 L62 4 L69 5.2 L69 13 L58.5 13 Z" fill="#149CF4"/><path d="M58.5 5 L61.5 6 L61.5 13 L58.5 13Z" fill="#0A7CE0"/><rect x="63" y="8" width="5" height="1.3" fill="#D8F0FF"/>
<path d="M58.6 19.3 C55.3 19.3 55.2 15 58.4 14.8 C58.6 11.8 63 11 64.5 13.6 C66.2 12 69 13 68.8 15.2 C72.2 14.8 72.6 19.3 69.4 19.3 Z" fill="url(#cloud)" stroke="#5070A8" stroke-width="1"/>
<circle cx="92" cy="12" r="7.4" fill="none" stroke="#6E96DA" stroke-width="1.1" opacity=".85"/><circle cx="92" cy="12" r="4.7" fill="none" stroke="#6E96DA" stroke-width="1.1" opacity=".8"/>
<path d="M92 12 L92 19.8 A7.8 7.8 0 0 0 98.8 8.2 Z" fill="url(#sig)" opacity=".85"/>
<circle cx="92" cy="11.8" r="2.1" fill="#2454C8"/><rect x="92" y="12" width="1.6" height="8" fill="#20A020"/>
<path d="M111.5 11.5 L126.5 10.8 L124 15 L118.8 19.8 Z" fill="#F8E060" stroke="#D8A820" stroke-width=".8"/>
<ellipse cx="119" cy="9.6" rx="8" ry="2.5" fill="#5AB4E0" stroke="#2888B8" stroke-width=".8" transform="rotate(-6 119 9)"/><ellipse cx="118.6" cy="7.2" rx="3.8" ry="2.8" fill="#6EC0E8" stroke="#2888B8" stroke-width=".7"/>
<circle cx="123.6" cy="15.5" r="4.2" fill="#E02810"/><rect x="122.2" y="14.2" width="2.8" height="2.7" fill="#fff"/>
<path d="M259.8 14.6 C262 13.5 263.5 9.2 266 9.3 C268.5 9.4 269 12.6 271.8 13.2" fill="none" stroke="#2E9E2E" stroke-width="1.4"/>
<path d="M300.6 13.6 L306.2 18.9" stroke="#A07810" stroke-width="3.6" stroke-linecap="butt"/><path d="M301.2 14.2 L306 18.7" stroke="#F0C830" stroke-width="2"/><circle cx="297" cy="10" r="5.4" fill="url(#lens)" stroke="#2E7BC4" stroke-width="1.2"/><rect x="293.5" y="9" width="7" height="2" fill="#3A8AB0"/><rect x="296" y="6.5" width="2" height="7" fill="#3A8AB0"/>
<path d="M328.6 13.6 L334.2 18.9" stroke="#A07810" stroke-width="3.6" stroke-linecap="butt"/><path d="M329.2 14.2 L334 18.7" stroke="#F0C830" stroke-width="2"/><circle cx="325" cy="10" r="5.4" fill="url(#lens)" stroke="#2E7BC4" stroke-width="1.2"/><rect x="321.5" y="9" width="7" height="2" fill="#3A8AB0"/>
<path d="M390.3 8.2 L390.3 14.9 L394.2 11.5 Z" fill="#70E870" stroke="#109010" stroke-width="1"/>
<path d="M420.2 11.5 L425 11.5 M420.4 11.5 L422.8 9.4 M420.4 11.5 L422.8 13.6" stroke="#E05000" stroke-width="1.3" fill="none"/><path d="M420.2 11.5 L423 9.6 L423 13.4Z" fill="#E05000"/>
<path d="M444.5 4.7 L452.5 4.7 L455.5 7.7 L455.5 17.5 L444.5 17.5 Z" fill="#fff" stroke="#909090" stroke-width="1"/><path d="M452.5 4.7 L452.5 7.7 L455.5 7.7" fill="#E0E0E0" stroke="#909090" stroke-width=".8"/>
<path d="M447.3 8.5 C446 9 446.8 11 446 11.5 C446.8 12 446 14 447.3 14.5" fill="none" stroke="#807050" stroke-width=".9"/>
<path d="M452 10.2 H456 V13.9 H459.9 V18.2 H456 V21.8 H452 V18.2 H448.1 V13.9 H452 Z" fill="url(#gplus)" stroke="#108A10" stroke-width=".9"/>
<circle cx="490" cy="11.8" r="7" fill="#fff" stroke="url(#clk)" stroke-width="2.2"/><path d="M489.3 8 L489.3 12 L492.6 12" fill="none" stroke="#202020" stroke-width="1.3"/><rect x="489" y="14.5" width="2" height="1" fill="#60A0F0"/>
<path d="M523.5 11.5 L526 10.3 L528 9.6 L530 10.6 L532 10.6 L534.5 9.6" fill="none" stroke="#A02000" stroke-width="1.2"/><path d="M523.5 16.7 L526 15.8 L528 16.6 L530 16.4 L532 14.6 L534.5 16.8" fill="none" stroke="#108010" stroke-width="1.2"/>
<path d="M573.1 4.9 L573.1 16 L575.7 13.7 L578.3 19.2 L579.9 18.4 L577.4 12.9 L581.1 12.4 Z" fill="#484848"/>
<path d="M689.8 18.8 L701.9 6.7" stroke="#404040" stroke-width="1.3"/>
<path d="M716 13.8 L724 5.8 M721 18.8 L730 10 M717.5 18 L719.5 11 M721.5 16.5 L724.5 7.5 M726 13 L727.5 4.5 M716.5 16.8 L729.5 6" stroke="#404040" stroke-width="1" fill="none"/>
<text x="726.8" y="20.8" font-size="6.5" fill="#303030" font-weight="bold">E</text>
<text x="754.8" y="20.8" font-size="6.5" fill="#303030" font-weight="bold">F</text>
<text x="775.4" y="16.9" font-size="12.6" fill="#505050" textLength="8.4" lengthAdjust="spacingAndGlyphs" stroke="#505050" stroke-width="0.5">A</text>
<path d="M829 10 L836 10 L832.5 6 Z" fill="#484848"/><path d="M836.3 15.2 L843 15.2 L839.7 18.9 Z" fill="#484848"/><path d="M831.2 13.4 L833.5 15.4 L837.8 10.4" fill="none" stroke="#484848" stroke-width="1.4"/>
<text x="883.05" y="16" font-size="10.3" fill="#404040" text-anchor="middle">M1</text>
<text x="911.1500000000001" y="16" font-size="10.3" fill="#404040" text-anchor="middle">M5</text>
<text x="939.6500000000001" y="16" font-size="10.3" fill="#404040" text-anchor="middle">M15</text>
<text x="967.5" y="16" font-size="10.3" fill="#404040" text-anchor="middle">M30</text>
<text x="995.5" y="16" font-size="10.3" fill="#404040" text-anchor="middle">H1</text>
<text x="1022.9000000000001" y="16" font-size="10.3" fill="#404040" text-anchor="middle">H4</text>
<text x="1051.5" y="16" font-size="10.3" fill="#404040" text-anchor="middle">D1</text>
<text x="1080.3999999999999" y="16" font-size="10.3" fill="#404040" text-anchor="middle">W1</text>
<text x="1107.2500000000002" y="16" font-size="10.3" fill="#404040" text-anchor="middle">MN</text>
<path d="M1589.4 13 L1585 17.2" stroke="#2858D8" stroke-width="2.4" stroke-linecap="round"/><circle cx="1592.5" cy="9.8" r="4" fill="#F4F4F4" stroke="#2858D8" stroke-width="1.4"/>
<path d="M1625.2 4.4 C1633.5 4.4 1633.5 13.4 1627.6 13.4 L1628.5 15.4 L1625.6 13.4 C1617 13.6 1617 4.4 1625.2 4.4Z" fill="url(#bub)" stroke="#9A9A9A" stroke-width="1"/>
<path d="M1616.2 9.4 C1622.6 9.4 1622.6 16.8 1616.6 16.8 L1613.6 18.8 L1614.2 16.6 C1609.6 16 1610 9.4 1616.2 9.4Z" fill="url(#bub)" stroke="#959595" stroke-width="1"/>
</g>
</svg>
</body></html>
